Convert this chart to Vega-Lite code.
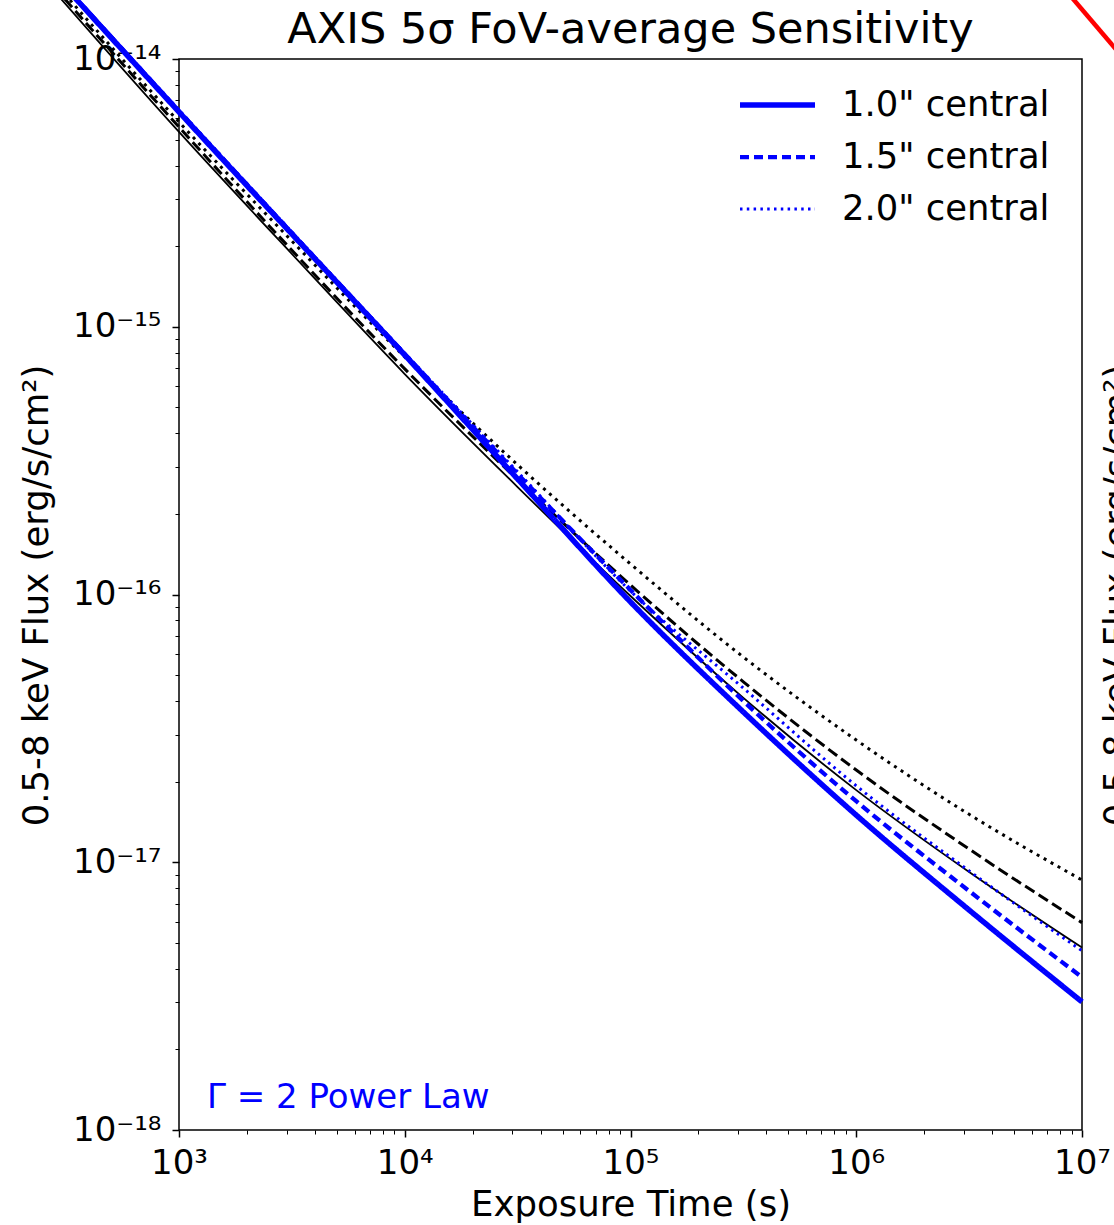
{
  "$schema": "https://vega.github.io/schema/vega-lite/v6.json",
  "autosize": {"type": "none"},
  "padding": {"left": 179, "top": 59, "right": 32, "bottom": 95},
  "width": 903,
  "height": 1071,
  "background": "white",
  "config": {
    "font": "DejaVu Sans",
    "view": {"stroke": "#000", "strokeWidth": 1.5}
  },
  "title": {
    "text": "AXIS 5σ FoV-average Sensitivity",
    "fontSize": 43,
    "fontWeight": "normal",
    "color": "#000",
    "anchor": "middle",
    "frame": "group",
    "baseline": "alphabetic",
    "offset": -134
  },
  "datasets": {
    "curves": [
      {"t": 251.2, "flux": 2.28e-14, "group": "A", "aperture": "1.0\" central"},
      {"t": 1000, "flux": 6.34e-15, "group": "A", "aperture": "1.0\" central"},
      {"t": 3162, "flux": 2.22e-15, "group": "A", "aperture": "1.0\" central"},
      {"t": 10000, "flux": 7.84e-16, "group": "A", "aperture": "1.0\" central"},
      {"t": 31623, "flux": 2.70e-16, "group": "A", "aperture": "1.0\" central"},
      {"t": 100000, "flux": 9.38e-17, "group": "A", "aperture": "1.0\" central"},
      {"t": 316228, "flux": 3.64e-17, "group": "A", "aperture": "1.0\" central"},
      {"t": 1000000, "flux": 1.50e-17, "group": "A", "aperture": "1.0\" central"},
      {"t": 3162278, "flux": 6.63e-18, "group": "A", "aperture": "1.0\" central"},
      {"t": 10000000, "flux": 3.01e-18, "group": "A", "aperture": "1.0\" central"},

      {"t": 251.2, "flux": 2.29e-14, "group": "A", "aperture": "1.5\" central"},
      {"t": 1000, "flux": 6.39e-15, "group": "A", "aperture": "1.5\" central"},
      {"t": 3162, "flux": 2.24e-15, "group": "A", "aperture": "1.5\" central"},
      {"t": 10000, "flux": 7.91e-16, "group": "A", "aperture": "1.5\" central"},
      {"t": 31623, "flux": 2.82e-16, "group": "A", "aperture": "1.5\" central"},
      {"t": 100000, "flux": 1.04e-16, "group": "A", "aperture": "1.5\" central"},
      {"t": 316228, "flux": 4.00e-17, "group": "A", "aperture": "1.5\" central"},
      {"t": 1000000, "flux": 1.69e-17, "group": "A", "aperture": "1.5\" central"},
      {"t": 3162278, "flux": 7.81e-18, "group": "A", "aperture": "1.5\" central"},
      {"t": 10000000, "flux": 3.72e-18, "group": "A", "aperture": "1.5\" central"},

      {"t": 251.2, "flux": 2.30e-14, "group": "A", "aperture": "2.0\" central"},
      {"t": 1000, "flux": 6.45e-15, "group": "A", "aperture": "2.0\" central"},
      {"t": 3162, "flux": 2.26e-15, "group": "A", "aperture": "2.0\" central"},
      {"t": 10000, "flux": 7.98e-16, "group": "A", "aperture": "2.0\" central"},
      {"t": 31623, "flux": 2.87e-16, "group": "A", "aperture": "2.0\" central"},
      {"t": 100000, "flux": 1.03e-16, "group": "A", "aperture": "2.0\" central"},
      {"t": 316228, "flux": 4.47e-17, "group": "A", "aperture": "2.0\" central"},
      {"t": 1000000, "flux": 1.93e-17, "group": "A", "aperture": "2.0\" central"},
      {"t": 3162278, "flux": 9.28e-18, "group": "A", "aperture": "2.0\" central"},
      {"t": 10000000, "flux": 4.67e-18, "group": "A", "aperture": "2.0\" central"},

      {"t": 251.2, "flux": 1.99e-14, "group": "B", "aperture": "1.0\" central"},
      {"t": 1000, "flux": 5.34e-15, "group": "B", "aperture": "1.0\" central"},
      {"t": 3162, "flux": 1.87e-15, "group": "B", "aperture": "1.0\" central"},
      {"t": 10000, "flux": 6.66e-16, "group": "B", "aperture": "1.0\" central"},
      {"t": 31623, "flux": 2.52e-16, "group": "B", "aperture": "1.0\" central"},
      {"t": 100000, "flux": 9.87e-17, "group": "B", "aperture": "1.0\" central"},
      {"t": 316228, "flux": 4.11e-17, "group": "B", "aperture": "1.0\" central"},
      {"t": 1000000, "flux": 1.86e-17, "group": "B", "aperture": "1.0\" central"},
      {"t": 3162278, "flux": 9.20e-18, "group": "B", "aperture": "1.0\" central"},
      {"t": 10000000, "flux": 4.80e-18, "group": "B", "aperture": "1.0\" central"},

      {"t": 251.2, "flux": 2.06e-14, "group": "B", "aperture": "1.5\" central"},
      {"t": 1000, "flux": 5.57e-15, "group": "B", "aperture": "1.5\" central"},
      {"t": 3162, "flux": 1.93e-15, "group": "B", "aperture": "1.5\" central"},
      {"t": 10000, "flux": 6.96e-16, "group": "B", "aperture": "1.5\" central"},
      {"t": 31623, "flux": 2.68e-16, "group": "B", "aperture": "1.5\" central"},
      {"t": 100000, "flux": 1.085e-16, "group": "B", "aperture": "1.5\" central"},
      {"t": 316228, "flux": 4.72e-17, "group": "B", "aperture": "1.5\" central"},
      {"t": 1000000, "flux": 2.21e-17, "group": "B", "aperture": "1.5\" central"},
      {"t": 3162278, "flux": 1.12e-17, "group": "B", "aperture": "1.5\" central"},
      {"t": 10000000, "flux": 5.95e-18, "group": "B", "aperture": "1.5\" central"},

      {"t": 251.2, "flux": 2.15e-14, "group": "B", "aperture": "2.0\" central"},
      {"t": 1000, "flux": 5.82e-15, "group": "B", "aperture": "2.0\" central"},
      {"t": 3162, "flux": 2.09e-15, "group": "B", "aperture": "2.0\" central"},
      {"t": 10000, "flux": 7.71e-16, "group": "B", "aperture": "2.0\" central"},
      {"t": 31623, "flux": 3.05e-16, "group": "B", "aperture": "2.0\" central"},
      {"t": 100000, "flux": 1.30e-16, "group": "B", "aperture": "2.0\" central"},
      {"t": 316228, "flux": 5.84e-17, "group": "B", "aperture": "2.0\" central"},
      {"t": 1000000, "flux": 2.86e-17, "group": "B", "aperture": "2.0\" central"},
      {"t": 3162278, "flux": 1.51e-17, "group": "B", "aperture": "2.0\" central"},
      {"t": 10000000, "flux": 8.58e-18, "group": "B", "aperture": "2.0\" central"}
    ],
    "neighbour": [
      {"t": 7990000, "flux": 1.912e-14},
      {"t": 17000000, "flux": 9.06e-15}
    ],
    "note": [
      {"t": 1330, "flux": 1.208e-18, "label": "Γ = 2 Power Law"}
    ]
  },
  "encoding": {
    "x": {
      "field": "t",
      "type": "quantitative",
      "scale": {"type": "log", "domain": [1000, 10000000], "nice": false},
      "axis": {
        "values": [1000, 2000, 3000, 4000, 5000, 6000, 7000, 8000, 9000,
                   10000, 20000, 30000, 40000, 50000, 60000, 70000, 80000, 90000,
                   100000, 200000, 300000, 400000, 500000, 600000, 700000, 800000, 900000,
                   1000000, 2000000, 3000000, 4000000, 5000000, 6000000, 7000000, 8000000, 9000000,
                   10000000],
        "labelExpr": "abs(log(datum.value)/LN10 - round(log(datum.value)/LN10)) < 0.01 ? '10' + ['⁰','¹','²','³','⁴','⁵','⁶','⁷','⁸','⁹'][round(log(datum.value)/LN10)] : ''",
        "tickSize": {"condition": {"test": "abs(log(datum.value)/LN10 - round(log(datum.value)/LN10)) < 0.01", "value": 7}, "value": 4},
        "tickWidth": {"condition": {"test": "abs(log(datum.value)/LN10 - round(log(datum.value)/LN10)) < 0.01", "value": 1.5}, "value": 1},
        "tickColor": "#000",
        "labelColor": "#000",
        "labelFontSize": 34,
        "labelPadding": 9,
        "labelFlush": false,
        "labelOverlap": false,
        "domain": false,
        "grid": false,
        "title": "Exposure Time (s)",
        "titleFontSize": 35.5,
        "titleFontWeight": "normal",
        "titleColor": "#000",
        "titleBaseline": "alphabetic",
        "titleY": 85
      }
    },
    "y": {
      "field": "flux",
      "type": "quantitative",
      "scale": {"type": "log", "domain": [1e-18, 1e-14], "nice": false},
      "axis": null
    }
  },
  "layer": [
    {
      "data": {"name": "curves"},
      "transform": [{"filter": "datum.group === 'B' && datum.aperture === '1.0\" central'"}],
      "mark": {"type": "line", "color": "#000", "strokeWidth": 1.8, "interpolate": "monotone"},
      "encoding": {
        "y": {
          "field": "flux",
          "type": "quantitative",
          "scale": {"type": "log", "domain": [1e-18, 1e-14], "nice": false},
          "axis": {
            "orient": "left",
            "values": [1e-18, 2e-18, 3e-18, 4e-18, 5e-18, 6e-18, 7e-18, 8e-18, 9e-18,
                       1e-17, 2e-17, 3e-17, 4e-17, 5e-17, 6e-17, 7e-17, 8e-17, 9e-17,
                       1e-16, 2e-16, 3e-16, 4e-16, 5e-16, 6e-16, 7e-16, 8e-16, 9e-16,
                       1e-15, 2e-15, 3e-15, 4e-15, 5e-15, 6e-15, 7e-15, 8e-15, 9e-15,
                       1e-14],
            "labelExpr": "abs(log(datum.value)/LN10 - round(log(datum.value)/LN10)) < 0.01 ? '10⁻¹' + ['⁰','¹','²','³','⁴','⁵','⁶','⁷','⁸','⁹'][-round(log(datum.value)/LN10) - 10] : ''",
            "tickSize": {"condition": {"test": "abs(log(datum.value)/LN10 - round(log(datum.value)/LN10)) < 0.01", "value": 7}, "value": 4},
            "tickWidth": {"condition": {"test": "abs(log(datum.value)/LN10 - round(log(datum.value)/LN10)) < 0.01", "value": 1.5}, "value": 1},
            "tickColor": "#000",
            "labelColor": "#000",
            "labelFontSize": 34,
            "labelPadding": 11,
            "labelFlush": false,
            "labelOverlap": false,
            "domain": false,
            "grid": false,
            "title": "0.5-8 keV Flux (erg/s/cm²)",
            "titleFontSize": 35.5,
            "titleFontWeight": "normal",
            "titleColor": "#000",
            "titleAngle": -90,
            "titleBaseline": "alphabetic",
            "titleX": -132,
            "titleY": 536
          }
        }
      }
    },
    {
      "data": {"name": "curves"},
      "transform": [{"filter": "datum.group === 'B' && datum.aperture === '1.5\" central'"}],
      "mark": {"type": "line", "color": "#000", "strokeWidth": 3, "strokeDash": [11, 5], "interpolate": "monotone"}
    },
    {
      "data": {"name": "curves"},
      "transform": [{"filter": "datum.group === 'B' && datum.aperture === '2.0\" central'"}],
      "mark": {"type": "line", "color": "#000", "strokeWidth": 3, "strokeDash": [3, 5], "interpolate": "monotone"}
    },
    {
      "data": {"name": "curves"},
      "transform": [{"filter": "datum.group === 'A'"}],
      "mark": {"type": "line", "color": "#0000ff", "interpolate": "monotone"},
      "encoding": {
        "strokeDash": {
          "field": "aperture",
          "type": "nominal",
          "scale": {"domain": ["1.0\" central", "1.5\" central", "2.0\" central"], "range": [[1, 0], [9, 5], [2.5, 4.3]]},
          "legend": {
            "title": null,
            "orient": "none",
            "legendX": 558,
            "legendY": 20,
            "padding": 0,
            "symbolType": "stroke",
            "symbolSize": 5625,
            "symbolStrokeColor": "#0000ff",
            "labelFontSize": 35.4,
            "labelColor": "#000",
            "labelLimit": 400,
            "labelOffset": 24,
            "clipHeight": 52,
            "rowPadding": 0
          }
        },
        "strokeWidth": {
          "field": "aperture",
          "type": "nominal",
          "scale": {"domain": ["1.0\" central", "1.5\" central", "2.0\" central"], "range": [5.5, 3, 3]},
          "legend": {
            "title": null,
            "orient": "none",
            "legendX": 558,
            "legendY": 20,
            "padding": 0,
            "symbolType": "stroke",
            "symbolSize": 5625,
            "symbolStrokeColor": "#0000ff",
            "labelFontSize": 35.4,
            "labelColor": "#000",
            "labelLimit": 400,
            "labelOffset": 24,
            "clipHeight": 52,
            "rowPadding": 0
          }
        }
      }
    },
    {
      "data": {"name": "neighbour"},
      "mark": {"type": "line", "color": "#ff0000", "strokeWidth": 4.5},
      "encoding": {
        "y": {
          "field": "flux",
          "type": "quantitative",
          "scale": {"type": "log", "domain": [1e-18, 1e-14], "nice": false},
          "axis": {
            "orient": "right",
            "labels": false,
            "ticks": false,
            "domain": false,
            "grid": false,
            "title": "0.5-8 keV Flux (erg/s/cm²)",
            "titleFontSize": 35.5,
            "titleFontWeight": "normal",
            "titleColor": "#000",
            "titleAngle": -90,
            "titleBaseline": "alphabetic",
            "titleX": 46,
            "titleY": 536
          }
        }
      }
    },
    {
      "data": {"name": "note"},
      "mark": {"type": "text", "align": "left", "baseline": "alphabetic", "fontSize": 34, "color": "#0000ff"},
      "encoding": {"text": {"field": "label", "type": "nominal"}}
    }
  ],
  "resolve": {"axis": {"y": "independent"}}
}
